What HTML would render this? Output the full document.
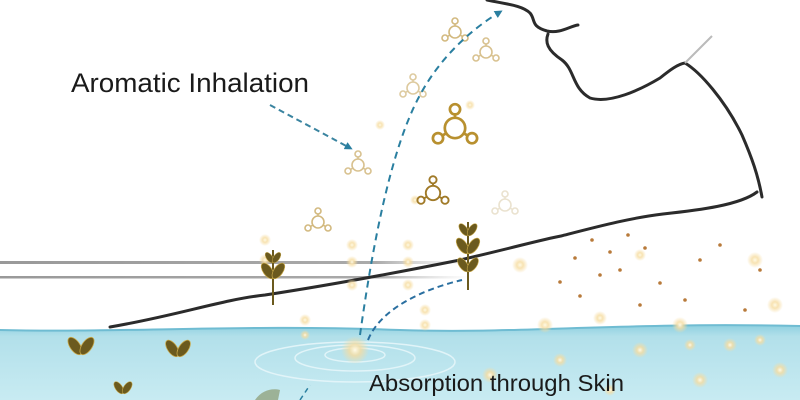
<!DOCTYPE html>
<html><head><meta charset="utf-8"><style>
html,body{margin:0;padding:0;background:#fff;width:800px;height:400px;overflow:hidden}
svg{display:block}
text{font-family:"Liberation Sans",sans-serif;fill:#1a1a1a}
</style></head><body>
<svg width="800" height="400" viewBox="0 0 800 400" xmlns="http://www.w3.org/2000/svg">
<defs>
<linearGradient id="w" x1="0" y1="0" x2="0" y2="1">
<stop offset="0" stop-color="#8fd0e0"/><stop offset="0.15" stop-color="#b2e0ea"/><stop offset="1" stop-color="#c8ebf2"/>
</linearGradient>
<radialGradient id="g"><stop offset="0" stop-color="#fffbe8"/><stop offset="0.4" stop-color="#f6dca0" stop-opacity="0.8"/><stop offset="1" stop-color="#f6dca0" stop-opacity="0"/></radialGradient>
<linearGradient id="gl" x1="0" x2="1"><stop offset="0" stop-color="#999"/><stop offset="0.8" stop-color="#aaa"/><stop offset="1" stop-color="#ccc" stop-opacity="0"/></linearGradient>
<marker id="ah" markerWidth="8" markerHeight="8" refX="5" refY="4" orient="auto" markerUnits="userSpaceOnUse"><path d="M0,0 L8,4 L0,8 z" fill="#2a7fa0"/></marker>
<g id="mol" fill="none" stroke-width="1.6">
<circle r="6"/><circle cx="0" cy="-11" r="3"/><circle cx="10" cy="6" r="3"/><circle cx="-10" cy="6" r="3"/>
<line x1="0" y1="-6" x2="0" y2="-8"/><line x1="5" y1="3" x2="7.5" y2="4.5"/><line x1="-5" y1="3" x2="-7.5" y2="4.5"/>
</g>
<g id="sp">
<ellipse cx="-6" cy="-9" rx="5" ry="10" transform="rotate(-35 -6 -9)" fill="#6b5a1e" stroke="#c9a94a" stroke-width="0.8"/>
<ellipse cx="6" cy="-9" rx="5" ry="10" transform="rotate(35 6 -9)" fill="#6b5a1e" stroke="#c9a94a" stroke-width="0.8"/>
</g>
</defs>

<rect x="0" y="261" width="470" height="3" fill="url(#gl)"/>
<rect x="0" y="276" width="470" height="2.5" fill="url(#gl)"/>

<path d="M0,330 C120,333 250,324 400,330 C520,334 620,322 800,326 L800,400 L0,400z" fill="url(#w)"/>
<path d="M0,330 C120,333 250,324 400,330 C520,334 620,322 800,326" stroke="#6fbcd2" stroke-width="2" fill="none"/>
<g fill="none" stroke="#e6f6fa" stroke-width="1.5" opacity="0.9">
<ellipse cx="355" cy="355" rx="30" ry="7"/><ellipse cx="355" cy="358" rx="60" ry="13"/><ellipse cx="355" cy="362" rx="100" ry="20"/>
</g>

<path d="M110,327 C180,315 220,300 265,295 C330,285 400,272 460,260 C520,246 540,240 561,236 C600,226 630,218 663,214 C700,210 740,205 757,192" stroke="#2b2b2b" stroke-width="3" fill="none" stroke-linecap="round"/>
<path d="M487,0 C505,4 522,5 530,13 C536,20 530,26 547,31 C560,34 570,26 578,25" stroke="#2b2b2b" stroke-width="3" fill="none" stroke-linecap="round"/>
<path d="M548,34 C545,42 547,50 562,60 C575,70 572,88 590,98 C610,104 640,90 660,78 C670,70 678,64 685,63 C700,72 725,100 742,135 C752,158 758,175 762,197" stroke="#2b2b2b" stroke-width="3" fill="none" stroke-linecap="round"/>
<path d="M685,63 L712,36" stroke="#bbb" stroke-width="2"/>

<g fill="#b87a3a">
<circle cx="575" cy="258" r="1.8"/><circle cx="592" cy="240" r="1.8"/><circle cx="610" cy="252" r="1.8"/><circle cx="628" cy="235" r="1.8"/><circle cx="645" cy="248" r="1.8"/><circle cx="620" cy="270" r="1.8"/><circle cx="600" cy="275" r="1.8"/><circle cx="660" cy="283" r="1.8"/><circle cx="580" cy="296" r="1.8"/><circle cx="640" cy="305" r="1.8"/><circle cx="700" cy="260" r="1.8"/><circle cx="720" cy="245" r="1.8"/><circle cx="745" cy="310" r="1.8"/><circle cx="685" cy="300" r="1.8"/><circle cx="560" cy="282" r="1.8"/><circle cx="760" cy="270" r="1.8"/>
</g>
<g fill="url(#g)">
<circle cx="355" cy="350" r="14"/><circle cx="520" cy="265" r="8"/><circle cx="545" cy="325" r="8"/><circle cx="600" cy="318" r="7"/><circle cx="680" cy="325" r="8"/><circle cx="755" cy="260" r="8"/><circle cx="775" cy="305" r="8"/><circle cx="640" cy="255" r="6"/>
<circle cx="490" cy="375" r="8"/><circle cx="560" cy="360" r="7"/><circle cx="640" cy="350" r="8"/><circle cx="700" cy="380" r="8"/><circle cx="730" cy="345" r="7"/><circle cx="780" cy="370" r="8"/><circle cx="610" cy="390" r="6"/><circle cx="690" cy="345" r="6"/><circle cx="760" cy="340" r="6"/>
<circle cx="265" cy="240" r="6"/><circle cx="265" cy="260" r="6"/><circle cx="305" cy="320" r="6"/><circle cx="305" cy="335" r="5"/><circle cx="352" cy="245" r="6"/><circle cx="352" cy="262" r="6"/><circle cx="352" cy="285" r="6"/><circle cx="408" cy="245" r="6"/><circle cx="408" cy="262" r="6"/><circle cx="408" cy="285" r="6"/><circle cx="425" cy="310" r="6"/><circle cx="425" cy="325" r="6"/><circle cx="380" cy="125" r="5"/><circle cx="470" cy="105" r="5"/><circle cx="415" cy="200" r="5"/>
</g>

<use href="#mol" x="455" y="32" stroke="#c8a860" opacity="0.8"/>
<use href="#mol" x="486" y="52" stroke="#c8a860" opacity="0.7"/>
<use href="#mol" x="413" y="88" stroke="#c8a860" opacity="0.6"/>
<g transform="translate(455,128) scale(1.7)"><use href="#mol" stroke="#b8902f"/></g>
<use href="#mol" x="358" y="165" stroke="#c8a860" opacity="0.7"/>
<g transform="translate(433,193) scale(1.2)"><use href="#mol" stroke="#a07a28"/></g>
<use href="#mol" x="318" y="222" stroke="#c8a860" opacity="0.8"/>
<use href="#mol" x="505" y="205" stroke="#ddd0b0" opacity="0.6"/>

<g transform="translate(273,305)"><line x1="0" y1="0" x2="0" y2="-55" stroke="#6b5a1e" stroke-width="2"/><g transform="translate(0,-26) scale(0.9)"><use href="#sp"/></g><g transform="translate(0,-42) scale(0.6)"><use href="#sp"/></g></g>
<g transform="translate(468,290)"><line x1="0" y1="0" x2="0" y2="-68" stroke="#6b5a1e" stroke-width="2"/><g transform="translate(0,-18) scale(0.8)"><use href="#sp"/></g><g transform="translate(0,-36) scale(0.9)"><use href="#sp"/></g><g transform="translate(0,-54) scale(0.7)"><use href="#sp"/></g></g>
<g transform="translate(81,355)"><use href="#sp"/></g>
<g transform="translate(178,357) scale(0.95)"><use href="#sp"/></g>
<g transform="translate(123,394) scale(0.7)"><use href="#sp"/></g>
<path d="M255,400 C262,390 272,388 280,390 L278,400z" fill="#8a9a70" opacity="0.7"/>

<path d="M360,335 C372,250 390,150 420,95 C440,58 470,30 500,12" stroke="#2a7fa0" stroke-width="2" stroke-dasharray="7,5" fill="none" marker-end="url(#ah)"/>
<path d="M270,105 L350,148" stroke="#3a84a0" stroke-width="2" stroke-dasharray="6,4" fill="none" marker-end="url(#ah)"/>
<path d="M368,340 C380,310 420,290 462,280" stroke="#2a6fa0" stroke-width="2" stroke-dasharray="6,4" fill="none"/>
<path d="M300,400 L310,385" stroke="#2a7fa0" stroke-width="1.5" stroke-dasharray="5,4"/>

<text x="71" y="92" font-size="27" textLength="238" lengthAdjust="spacingAndGlyphs">Aromatic Inhalation</text>
<text x="369" y="391" font-size="23" textLength="255" lengthAdjust="spacingAndGlyphs">Absorption through Skin</text>
</svg>
</body></html>
